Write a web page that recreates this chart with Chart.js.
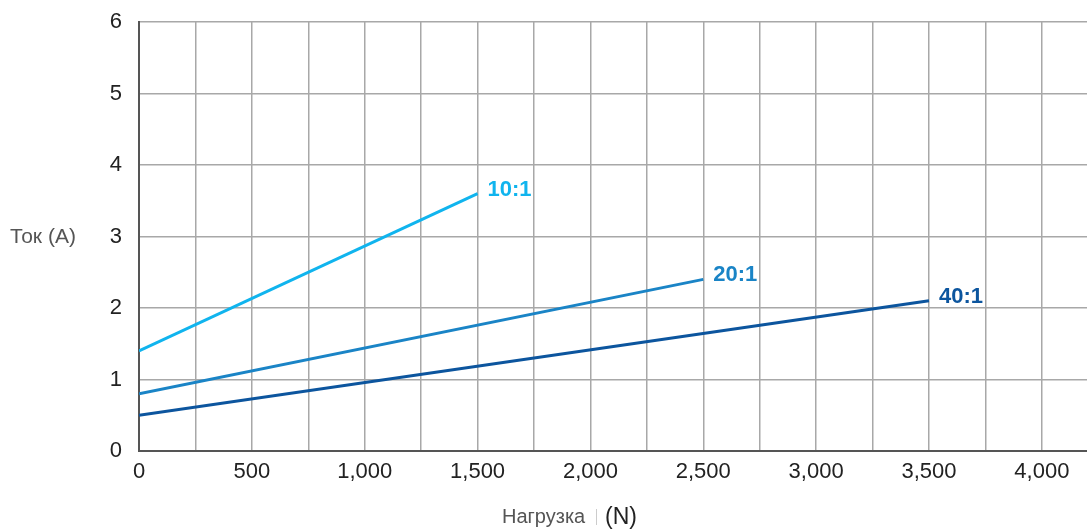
<!DOCTYPE html>
<html>
<head>
<meta charset="utf-8">
<script src="https://cdn.jsdelivr.net/npm/chart.js@4.4.0/dist/chart.umd.min.js"></script>
<style>
  html, body { margin: 0; padding: 0; background: #fff; }
  #wrap { width: 1087px; height: 529px; position: relative; }
</style>
</head>
<body>
<div id="wrap"><canvas id="chart"></canvas></div>
<script>
// data
const ratios = ["10:1", "20:1", "40:1"];
const load10 = [0, 1500];
const current10 = [1.4, 3.6];
const load20 = [0, 2500];
const current20 = [0.8, 2.4];
const load40 = [0, 3500];
const current40 = [0.5, 2.1];
const colors = ["#10b4ee", "#1a84c6", "#0c559e"];
const yTicks = [0, 1, 2, 3, 4, 5, 6];
const xTicks = [0, 250, 500, 750, 1000, 1250, 1500, 1750, 2000, 2250, 2500, 2750, 3000, 3250, 3500, 3750, 4000];

const FONT = "'Liberation Sans', Arial, sans-serif";

function pts(xs, ys) {
  return xs.map((x, i) => ({ x, y: ys[i] }));
}

const series = [pts(load10, current10), pts(load20, current20), pts(load40, current40)];

// labels at line ends + axis titles
const labelsPlugin = {
  id: "labels",
  afterDatasetsDraw(chart) {
    const ctx = chart.ctx;
    ctx.save();
    ctx.font = "bold 22px " + FONT;
    ctx.textBaseline = "middle";
    ctx.textAlign = "left";
    chart.data.datasets.forEach((ds, i) => {
      const meta = chart.getDatasetMeta(i);
      const last = meta.data[meta.data.length - 1];
      ctx.fillStyle = colors[i];
      ctx.fillText(ratios[i], last.x + 10, last.y - 4);
    });

    // y title
    ctx.font = "21px " + FONT;
    ctx.fillStyle = "#555";
    ctx.textAlign = "left";
    ctx.fillText("Ток (А)", 10, 237);

    // x title
    ctx.font = "20px " + FONT;
    ctx.fillStyle = "#555";
    ctx.fillText("Нагрузка", 502, 517);
    ctx.fillStyle = "#ccc";
    ctx.fillRect(596, 509, 1, 16);
    ctx.font = "23px " + FONT;
    ctx.fillStyle = "#222";
    ctx.fillText("(N)", 605, 518);
    ctx.restore();
  }
};

new Chart(document.getElementById("chart"), {
  type: "line",
  data: {
    datasets: series.map((data, i) => ({
      label: ratios[i],
      data,
      borderColor: colors[i],
      borderWidth: 3,
      pointRadius: 0,
      fill: false,
      tension: 0
    }))
  },
  options: {
    responsive: true,
    maintainAspectRatio: false,
    animation: false,
    layout: { padding: { top: 22, right: 0, left: 0, bottom: 0 } },
    plugins: { legend: { display: false }, tooltip: { enabled: false } },
    scales: {
      x: {
        type: "linear",
        min: 0,
        max: 4200,
        afterFit(s) { s.height = 78; s.paddingLeft = 0; s.paddingRight = 0; },
        afterBuildTicks(s) { s.ticks = xTicks.map((v) => ({ value: v })); },
        ticks: {
          autoSkip: false,
          maxRotation: 0,
          color: "#222",
          padding: 8,
          font: { family: FONT, size: 22 },
          callback: (v) => (v % 500 === 0 ? v.toLocaleString("en-US") : "")
        },
        grid: { color: "#a8a8a8", lineWidth: 1.5, drawTicks: false },
        border: { color: "#555", width: 2 }
      },
      y: {
        min: 0,
        max: 6,
        afterFit(s) { s.width = 139; s.paddingTop = 0; s.paddingBottom = 0; },
        afterBuildTicks(s) { s.ticks = yTicks.map((v) => ({ value: v })); },
        ticks: {
          color: "#222",
          padding: 17,
          font: { family: FONT, size: 22 }
        },
        grid: { color: "#a8a8a8", lineWidth: 1.5, drawTicks: false },
        border: { color: "#555", width: 2 }
      }
    }
  },
  plugins: [labelsPlugin]
});
</script>
</body>
</html>
